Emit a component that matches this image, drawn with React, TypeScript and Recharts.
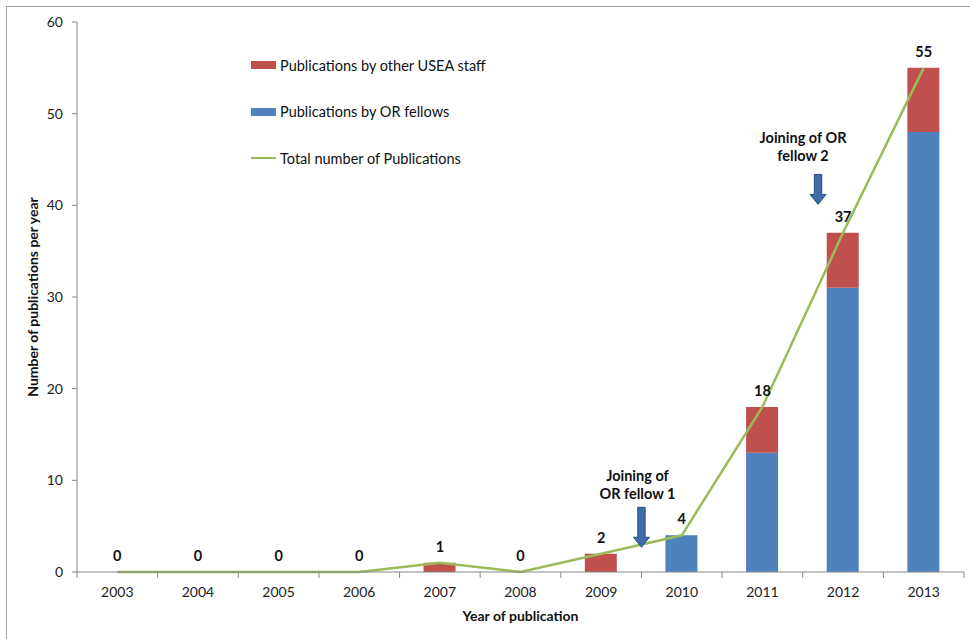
import React from "react";
import {
  ComposedChart,
  Bar,
  Line,
  XAxis,
  YAxis,
  Legend,
  LabelList,
  ReferenceDot,
} from "recharts";

const years = ["2003", "2004", "2005", "2006", "2007", "2008", "2009", "2010", "2011", "2012", "2013"];
const orFellows = [0, 0, 0, 0, 0, 0, 0, 4, 13, 31, 48];
const otherStaff = [0, 0, 0, 0, 1, 0, 2, 0, 5, 6, 7];
const totals = [0, 0, 0, 0, 1, 0, 2, 4, 18, 37, 55];
const yTicks = [0, 10, 20, 30, 40, 50, 60];

const annotations = [
  { x: 6.5, y: 2.7, lines: ["Joining of", "OR fellow 1"], len: 40, tdx: -4, tdy: -72 },
  { x: 8.69, y: 40.1, lines: ["Joining of OR", "fellow 2"], len: 30, tdx: -15, tdy: -67 },
];

const data = years.map((year, i) => ({
  idx: i,
  year,
  fellows: orFellows[i],
  other: otherStaff[i],
  total: totals[i],
}));

const RED = "#c0504d";
const BLUE = "#4f81bd";
const GREEN = "#9bbb59";
const AXIS = "#868686";
const FONT = "Lato, 'Open Sans', sans-serif";

const legendItems = [
  { label: "Publications by other USEA staff", color: RED, type: "rect" },
  { label: "Publications by OR fellows", color: BLUE, type: "rect" },
  { label: "Total number of Publications", color: GREEN, type: "line" },
];

const LegendContent = () => (
  <div style={{ fontFamily: FONT, fontSize: 14.5, color: "#111" }}>
    {legendItems.map((it, i) => (
      <div key={i} style={{ display: "flex", alignItems: "center", height: 20, marginBottom: i < 2 ? 26.5 : 0 }}>
        {it.type === "rect" ? (
          <span style={{ display: "inline-block", width: 25, height: 8, background: it.color, marginRight: 4 }} />
        ) : (
          <span style={{ display: "inline-block", width: 25, height: 2.5, background: it.color, marginRight: 4 }} />
        )}
        <span>{it.label}</span>
      </div>
    ))}
  </div>
);

const YearTick = (props: any) => {
  const { x, y, payload, index, visibleTicksCount } = props;
  const half = payload && payload.offset ? payload.offset : 0;
  const axisY = y - 4;
  return (
    <g>
      <line x1={x - half} y1={axisY} x2={x - half} y2={axisY + 6} stroke={AXIS} />
      {index === visibleTicksCount - 1 && (
        <line x1={x + half} y1={axisY} x2={x + half} y2={axisY + 6} stroke={AXIS} />
      )}
      <text
        x={x}
        y={y + 21}
        textAnchor="middle"
        fontFamily={FONT}
        fontSize={14}
        fill="#222"
      >
        {payload.value}
      </text>
    </g>
  );
};

const makeArrow = (a: typeof annotations[number]) => (props: any) => {
  const { cx, cy } = props;
  const len = a.len;
  const headH = 10;
  const headW = 8;
  const shaftW = 3.7;
  const top = cy - len;
  const hb = cy - headH;
  const pts = [
    [cx - shaftW, top],
    [cx + shaftW, top],
    [cx + shaftW, hb],
    [cx + headW, hb],
    [cx, cy],
    [cx - headW, hb],
    [cx - shaftW, hb],
  ]
    .map((p) => p.join(","))
    .join(" ");
  return (
    <g>
      <polygon points={pts} fill="#3d6ca8" stroke="#2a4e7e" strokeWidth={1} />
      {a.lines.map((ln, i) => (
        <text
          key={i}
          x={cx + a.tdx}
          y={cy + a.tdy + i * 18.5}
          textAnchor="middle"
          dominantBaseline="central"
          fontFamily={FONT}
          fontSize={14.5}
          fontWeight="bold"
          fill="#111"
        >
          {ln}
        </text>
      ))}
    </g>
  );
};

export default function App() {
  return (
    <div style={{ position: "absolute", left: 0, top: 0, width: 970, height: 639, background: "#fff" }}>
      <div
        style={{
          position: "absolute",
          left: 6,
          top: 6,
          width: 964,
          height: 633,
          borderLeft: "1.5px solid #a0a0a0",
          borderTop: "1.5px solid #a0a0a0",
          boxSizing: "border-box",
        }}
      />
      <div style={{ position: "absolute", left: 0, top: 0 }}>
        <ComposedChart
          width={970}
          height={639}
          data={data}
          margin={{ top: 22, right: 6, bottom: 0, left: 0 }}
          barSize={32}
        >
          <XAxis
            xAxisId="num"
            dataKey="idx"
            type="number"
            domain={[-0.5, 10.5]}
            allowDataOverflow
            hide
          />
          <XAxis
            dataKey="year"
            height={67}
            axisLine={{ stroke: AXIS }}
            tickLine={false}
            tickSize={4}
            tickMargin={0}
            tick={<YearTick />}
            interval={0}
            label={{
              value: "Year of publication",
              position: "insideBottom",
              offset: 18,
              style: { fontFamily: FONT, fontSize: 14, fontWeight: "bold", fill: "#111" },
            }}
          />
          <YAxis
            width={77}
            domain={[0, 60]}
            ticks={yTicks}
            tickSize={5}
            tickMargin={9}
            axisLine={{ stroke: AXIS }}
            tickLine={{ stroke: AXIS }}
            tick={{ fontFamily: FONT, fontSize: 14, fill: "#222" }}
            label={{
              value: "Number of publications per year",
              angle: -90,
              position: "insideLeft",
              offset: 33,
              style: { fontFamily: FONT, fontSize: 14, fontWeight: "bold", fill: "#111", textAnchor: "middle" },
            }}
          />
          <Legend
            layout="vertical"
            align="center"
            verticalAlign="middle"
            content={<LegendContent />}
            wrapperStyle={{ left: 251, top: 55, width: 280, height: 120 }}
          />
          <Bar dataKey="fellows" stackId="a" fill={BLUE} isAnimationActive={false} />
          <Bar dataKey="other" stackId="a" fill={RED} isAnimationActive={false} />
          <Line
            dataKey="total"
            stroke={GREEN}
            strokeWidth={2.5}
            dot={false}
            activeDot={false}
            isAnimationActive={false}
          >
            <LabelList
              dataKey="total"
              position="top"
              offset={11}
              style={{ fontFamily: FONT, fontSize: 14.5, fontWeight: "bold", fill: "#111" }}
            />
          </Line>
          {annotations.map((a, i) => (
            <ReferenceDot
              key={i}
              xAxisId="num"
              x={a.x}
              y={a.y}
              r={0}
              ifOverflow="visible"
              shape={makeArrow(a)}
            />
          ))}
        </ComposedChart>
      </div>
    </div>
  );
}
